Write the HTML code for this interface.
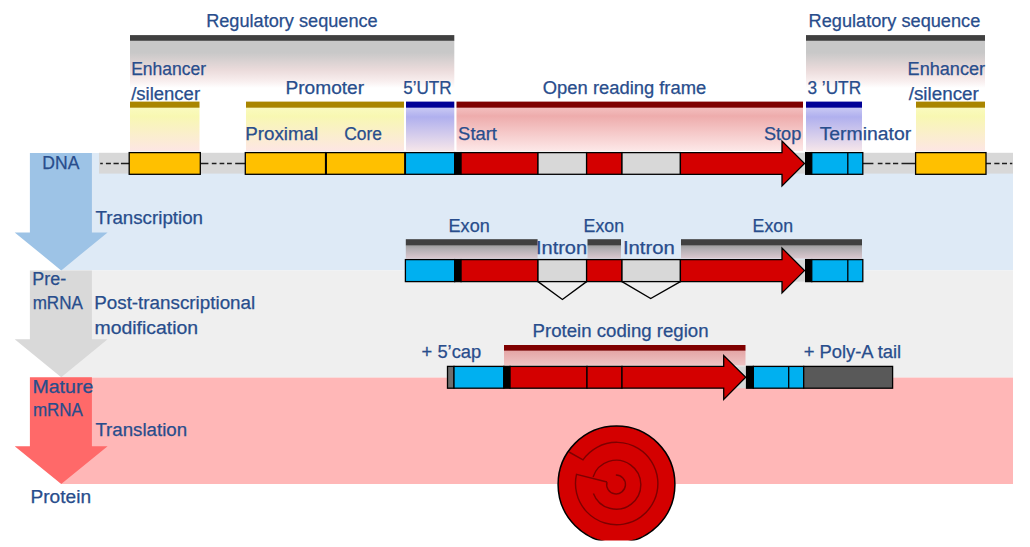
<!DOCTYPE html>
<html><head><meta charset="utf-8"><title>Gene structure</title>
<style>html,body{margin:0;padding:0;background:#fff;width:1030px;height:547px;overflow:hidden}svg{display:block;font-family:"Liberation Sans",sans-serif}</style>
</head><body>
<svg width="1030" height="547" viewBox="0 0 1030 547"><defs>
<linearGradient id="gGray" x1="0" y1="0" x2="0" y2="1">
 <stop offset="0" stop-color="#c8c8c8"/><stop offset="0.25" stop-color="#c8c8c8"/><stop offset="0.62" stop-color="#ebdbdb"/><stop offset="0.85" stop-color="#f8eeee"/><stop offset="1" stop-color="#ffffff"/>
</linearGradient>
<linearGradient id="gGold" x1="0" y1="0" x2="0" y2="1">
 <stop offset="0" stop-color="#fafac0"/><stop offset="0.2" stop-color="#f8f8b2"/><stop offset="1" stop-color="#fde6e4"/>
</linearGradient>
<linearGradient id="gBlue" x1="0" y1="0" x2="0" y2="1">
 <stop offset="0" stop-color="#cacaf4"/><stop offset="0.22" stop-color="#b0b0ee"/><stop offset="1" stop-color="#f6e6ea"/>
</linearGradient>
<linearGradient id="gRed" x1="0" y1="0" x2="0" y2="1">
 <stop offset="0" stop-color="#f3c0c0"/><stop offset="0.2" stop-color="#eeacac"/><stop offset="1" stop-color="#fde8e8"/>
</linearGradient>
<linearGradient id="gExon" x1="0" y1="0" x2="0" y2="1">
 <stop offset="0" stop-color="#9c9c9c"/><stop offset="0.3" stop-color="#b2aeb2"/><stop offset="1" stop-color="#dcc8d0"/>
</linearGradient>
<linearGradient id="gPcr" x1="0" y1="0" x2="0" y2="1">
 <stop offset="0" stop-color="#e4a6a6"/><stop offset="1" stop-color="#eec4c4"/>
</linearGradient>
</defs>
<rect x="61.20" y="153.00" width="951.80" height="117.40" fill="#deeaf6"/>
<rect x="61.20" y="270.40" width="951.80" height="107.20" fill="#efefef"/>
<rect x="61.20" y="377.60" width="951.80" height="106.40" fill="#ffb7b7"/>
<polygon points="29.9,153 91.9,153 91.9,232.4 107.6,232.4 61.2,270.4 14.7,232.4 29.9,232.4" fill="#9dc3e6"/>
<polygon points="29.9,270.4 91.9,270.4 91.9,339.3 107.6,339.3 61.2,377.2 14.7,339.3 29.9,339.3" fill="#d9d9d9"/>
<polygon points="29.9,377.2 91.9,377.2 91.9,446.3 107.6,446.3 61.2,484 14.7,446.3 29.9,446.3" fill="#ff6969"/>
<rect x="130.00" y="40.50" width="324.30" height="47.50" fill="url(#gGray)"/>
<rect x="806.00" y="40.50" width="179.00" height="47.50" fill="url(#gGray)"/>
<rect x="130.00" y="35.10" width="324.30" height="5.70" fill="#404040"/>
<rect x="806.00" y="35.10" width="179.00" height="5.70" fill="#404040"/>
<rect x="130.00" y="107.30" width="69.50" height="43.70" fill="url(#gGold)"/>
<rect x="246.00" y="107.30" width="158.00" height="43.70" fill="url(#gGold)"/>
<rect x="916.00" y="107.30" width="69.00" height="43.70" fill="url(#gGold)"/>
<rect x="406.00" y="107.30" width="48.30" height="43.70" fill="url(#gBlue)"/>
<rect x="806.00" y="107.30" width="56.00" height="43.70" fill="url(#gBlue)"/>
<rect x="456.50" y="107.30" width="346.50" height="43.70" fill="url(#gRed)"/>
<rect x="130.00" y="101.60" width="69.50" height="6.10" fill="#a98500"/>
<rect x="246.00" y="101.60" width="158.00" height="6.10" fill="#a98500"/>
<rect x="916.00" y="101.60" width="69.00" height="6.10" fill="#a98500"/>
<rect x="406.00" y="101.60" width="48.30" height="6.10" fill="#000096"/>
<rect x="806.00" y="101.60" width="56.00" height="6.10" fill="#000096"/>
<rect x="456.50" y="101.60" width="346.50" height="6.10" fill="#7f0000"/>
<rect x="99.00" y="152.80" width="914.00" height="20.80" fill="#d8d8d8"/>
<path d="M100.2,163.5H102.8 M105.9,163.5H110.9 M113.5,163.5H118.75 M120.9,163.5H129.5 M200.2,163.5H208.4 M211.8,163.5H216.5 M219.6,163.5H224.3 M227.0,163.5H231.8 M235.2,163.5H245.5 M862.5,163.5H873.4 M877.8,163.5H882.5 M885.3,163.5H890.4 M893.0,163.5H898.2 M901.5,163.5H915.5 M986.0,163.5H991.0 M994.3,163.5H999.5 M1002.0,163.5H1007.0 M1009.9,163.5H1012.3" stroke="#1e1e1e" stroke-width="1.6" fill="none"/>
<rect x="129.20" y="152.60" width="71.10" height="21.70" fill="#ffc000" stroke="#000" stroke-width="1.3"/>
<rect x="245.30" y="152.60" width="80.30" height="21.70" fill="#ffc000" stroke="#000" stroke-width="1.3"/>
<rect x="325.60" y="152.60" width="79.20" height="21.70" fill="#ffc000" stroke="#000" stroke-width="1.3"/>
<line x1="326" y1="152.6" x2="326" y2="174.3" stroke="#000" stroke-width="1.9"/>
<rect x="405.40" y="152.60" width="49.25" height="21.70" fill="#00b0f0" stroke="#000" stroke-width="1.3"/>
<rect x="454.65" y="152.60" width="6.40" height="21.70" fill="#000" stroke="#000" stroke-width="1.3"/>
<rect x="461.05" y="152.60" width="76.95" height="21.70" fill="#d40000" stroke="#000" stroke-width="1.3"/>
<rect x="538.00" y="152.60" width="48.60" height="21.70" fill="#d8d8d8" stroke="#000" stroke-width="1.3"/>
<rect x="586.60" y="152.60" width="35.40" height="21.70" fill="#d40000" stroke="#000" stroke-width="1.3"/>
<rect x="622.00" y="152.60" width="58.40" height="21.70" fill="#d8d8d8" stroke="#000" stroke-width="1.3"/>
<polygon points="680.4,152.6 782,152.6 782,141 804.5,163.45 782,186 782,174.3 680.4,174.3" fill="#d40000" stroke="#000" stroke-width="1.3" stroke-linejoin="miter"/>
<rect x="805.65" y="152.60" width="6.10" height="21.70" fill="#000" stroke="#000" stroke-width="1.3"/>
<rect x="811.75" y="152.60" width="51.05" height="21.70" fill="#00b0f0" stroke="#000" stroke-width="1.3"/>
<line x1="847.8" y1="152.6" x2="847.8" y2="174.3" stroke="#000" stroke-width="1.3"/>
<rect x="915.60" y="152.60" width="70.40" height="21.70" fill="#ffc000" stroke="#000" stroke-width="1.3"/>
<rect x="405.80" y="245.00" width="131.80" height="13.60" fill="url(#gExon)"/>
<rect x="587.50" y="245.00" width="33.50" height="13.60" fill="url(#gExon)"/>
<rect x="681.00" y="245.00" width="181.00" height="13.60" fill="url(#gExon)"/>
<rect x="405.80" y="239.20" width="131.80" height="6.10" fill="#404040"/>
<rect x="587.50" y="239.20" width="33.50" height="6.10" fill="#404040"/>
<rect x="681.00" y="239.20" width="181.00" height="6.10" fill="#404040"/>
<rect x="782.00" y="259.60" width="23.00" height="22.00" fill="#d8d8d8"/>
<rect x="405.40" y="259.60" width="49.25" height="22.00" fill="#00b0f0" stroke="#000" stroke-width="1.3"/>
<rect x="454.65" y="259.60" width="6.40" height="22.00" fill="#000" stroke="#000" stroke-width="1.3"/>
<rect x="461.05" y="259.60" width="76.95" height="22.00" fill="#d40000" stroke="#000" stroke-width="1.3"/>
<rect x="538.00" y="259.60" width="48.60" height="22.00" fill="#d8d8d8" stroke="#000" stroke-width="1.3"/>
<rect x="586.60" y="259.60" width="35.40" height="22.00" fill="#d40000" stroke="#000" stroke-width="1.3"/>
<rect x="622.00" y="259.60" width="58.40" height="22.00" fill="#d8d8d8" stroke="#000" stroke-width="1.3"/>
<polygon points="680.4,259.6 782,259.6 782,248 804.5,270.6 782,293 782,281.6 680.4,281.6" fill="#d40000" stroke="#000" stroke-width="1.3" stroke-linejoin="miter"/>
<rect x="805.65" y="259.60" width="6.10" height="22.00" fill="#000" stroke="#000" stroke-width="1.3"/>
<rect x="811.75" y="259.60" width="51.05" height="22.00" fill="#00b0f0" stroke="#000" stroke-width="1.3"/>
<line x1="847.8" y1="259.6" x2="847.8" y2="281.6" stroke="#000" stroke-width="1.3"/>
<polyline points="538,281.6 562.4,299.5 586.6,281.6" fill="none" stroke="#000" stroke-width="1.4"/>
<polyline points="622,281.6 650.7,298.5 680.4,281.6" fill="none" stroke="#000" stroke-width="1.4"/>
<rect x="504.00" y="350.70" width="241.50" height="14.80" fill="url(#gPcr)"/>
<rect x="504.00" y="345.00" width="241.50" height="5.70" fill="#7f0000"/>
<rect x="724.00" y="366.40" width="22.00" height="21.80" fill="#d8d8d8"/>
<rect x="447.50" y="366.40" width="6.50" height="21.80" fill="#6e6e6e" stroke="#000" stroke-width="1.3"/>
<rect x="454.00" y="366.40" width="49.85" height="21.80" fill="#00b0f0" stroke="#000" stroke-width="1.3"/>
<rect x="503.85" y="366.40" width="6.20" height="21.80" fill="#000" stroke="#000" stroke-width="1.3"/>
<rect x="510.05" y="366.40" width="76.95" height="21.80" fill="#d40000" stroke="#000" stroke-width="1.3"/>
<rect x="587.00" y="366.40" width="35.00" height="21.80" fill="#d40000" stroke="#000" stroke-width="1.3"/>
<polygon points="622,366.4 723.7,366.4 723.7,355.5 745.7,377.29999999999995 723.7,399.5 723.7,388.2 622,388.2" fill="#d40000" stroke="#000" stroke-width="1.3"/>
<rect x="746.55" y="366.40" width="6.80" height="21.80" fill="#000" stroke="#000" stroke-width="1.3"/>
<rect x="753.35" y="366.40" width="50.35" height="21.80" fill="#00b0f0" stroke="#000" stroke-width="1.3"/>
<line x1="788.7" y1="366.4" x2="788.7" y2="388.2" stroke="#000" stroke-width="1.3"/>
<rect x="803.70" y="366.40" width="88.90" height="21.80" fill="#595959" stroke="#000" stroke-width="1.3"/>
<clipPath id="clipB"><rect x="0" y="0" width="1030" height="540.6"/></clipPath>
<g clip-path="url(#clipB)">
<circle cx="616.5" cy="484.4" r="58.4" fill="#d40000" stroke="#000" stroke-width="1.5"/>
<path d="M607,482 A9.4,9.4 0 1 0 615.8,475.1" fill="none" stroke="#7e0000" stroke-width="1.45"/>
<path d="M607,482 L576.5,474.4 A41.2,41.2 0 1 0 583,459.8 L569,452" fill="none" stroke="#7e0000" stroke-width="1.45"/>
<path d="M593.1,476.9 A24.5,24.5 0 1 1 593.4,493.4" fill="none" stroke="#7e0000" stroke-width="1.45"/>
</g>
<g font-family="Liberation Sans, sans-serif" font-size="17.6" fill="#284d8c" stroke="#284d8c" stroke-width="0.25">
<text x="206.18" y="26.60" textLength="171.55" lengthAdjust="spacingAndGlyphs">Regulatory sequence</text>
<text x="808.58" y="26.60" textLength="171.66" lengthAdjust="spacingAndGlyphs">Regulatory sequence</text>
<text x="131.13" y="74.60" textLength="74.95" lengthAdjust="spacingAndGlyphs">Enhancer</text>
<text x="131.20" y="99.75" textLength="68.89" lengthAdjust="spacingAndGlyphs">/silencer</text>
<text x="907.59" y="74.60" textLength="77.50" lengthAdjust="spacingAndGlyphs">Enhancer</text>
<text x="908.70" y="99.75" textLength="70.09" lengthAdjust="spacingAndGlyphs">/silencer</text>
<text x="285.51" y="93.75" textLength="78.59" lengthAdjust="spacingAndGlyphs">Promoter</text>
<text x="403.17" y="93.75" textLength="48.43" lengthAdjust="spacingAndGlyphs">5’UTR</text>
<text x="542.84" y="93.75" textLength="163.41" lengthAdjust="spacingAndGlyphs">Open reading frame</text>
<text x="807.46" y="93.75" textLength="53.64" lengthAdjust="spacingAndGlyphs">3 ’UTR</text>
<text x="245.23" y="139.50" textLength="73.00" lengthAdjust="spacingAndGlyphs">Proximal</text>
<text x="344.18" y="139.50" textLength="37.72" lengthAdjust="spacingAndGlyphs">Core</text>
<text x="458.13" y="139.50" textLength="38.81" lengthAdjust="spacingAndGlyphs">Start</text>
<text x="763.93" y="139.50" textLength="37.30" lengthAdjust="spacingAndGlyphs">Stop</text>
<text x="819.70" y="139.50" textLength="91.40" lengthAdjust="spacingAndGlyphs">Terminator</text>
<text x="42.33" y="168.70" textLength="37.09" lengthAdjust="spacingAndGlyphs">DNA</text>
<text x="95.41" y="223.70" textLength="107.65" lengthAdjust="spacingAndGlyphs">Transcription</text>
<text x="32.30" y="285.00" textLength="33.85" lengthAdjust="spacingAndGlyphs">Pre-</text>
<text x="32.63" y="308.70" textLength="50.28" lengthAdjust="spacingAndGlyphs">mRNA</text>
<text x="94.23" y="308.70" textLength="161.01" lengthAdjust="spacingAndGlyphs">Post-transcriptional</text>
<text x="94.49" y="333.90" textLength="103.60" lengthAdjust="spacingAndGlyphs">modification</text>
<text x="32.47" y="392.50" textLength="60.82" lengthAdjust="spacingAndGlyphs">Mature</text>
<text x="32.94" y="416.00" textLength="49.98" lengthAdjust="spacingAndGlyphs">mRNA</text>
<text x="95.41" y="435.90" textLength="91.64" lengthAdjust="spacingAndGlyphs">Translation</text>
<text x="30.51" y="503.00" textLength="60.57" lengthAdjust="spacingAndGlyphs">Protein</text>
<text x="448.59" y="231.80" textLength="41.12" lengthAdjust="spacingAndGlyphs">Exon</text>
<text x="583.62" y="231.80" textLength="40.38" lengthAdjust="spacingAndGlyphs">Exon</text>
<text x="752.62" y="231.80" textLength="40.38" lengthAdjust="spacingAndGlyphs">Exon</text>
<text x="535.94" y="253.70" textLength="51.19" lengthAdjust="spacingAndGlyphs">Intron</text>
<text x="622.91" y="253.70" textLength="51.93" lengthAdjust="spacingAndGlyphs">Intron</text>
<text x="532.55" y="337.00" textLength="176.00" lengthAdjust="spacingAndGlyphs">Protein coding region</text>
<text x="421.64" y="358.20" textLength="59.60" lengthAdjust="spacingAndGlyphs">+ 5’cap</text>
<text x="803.65" y="357.50" textLength="97.55" lengthAdjust="spacingAndGlyphs">+ Poly-A tail</text>
</g></svg>
</body></html>
